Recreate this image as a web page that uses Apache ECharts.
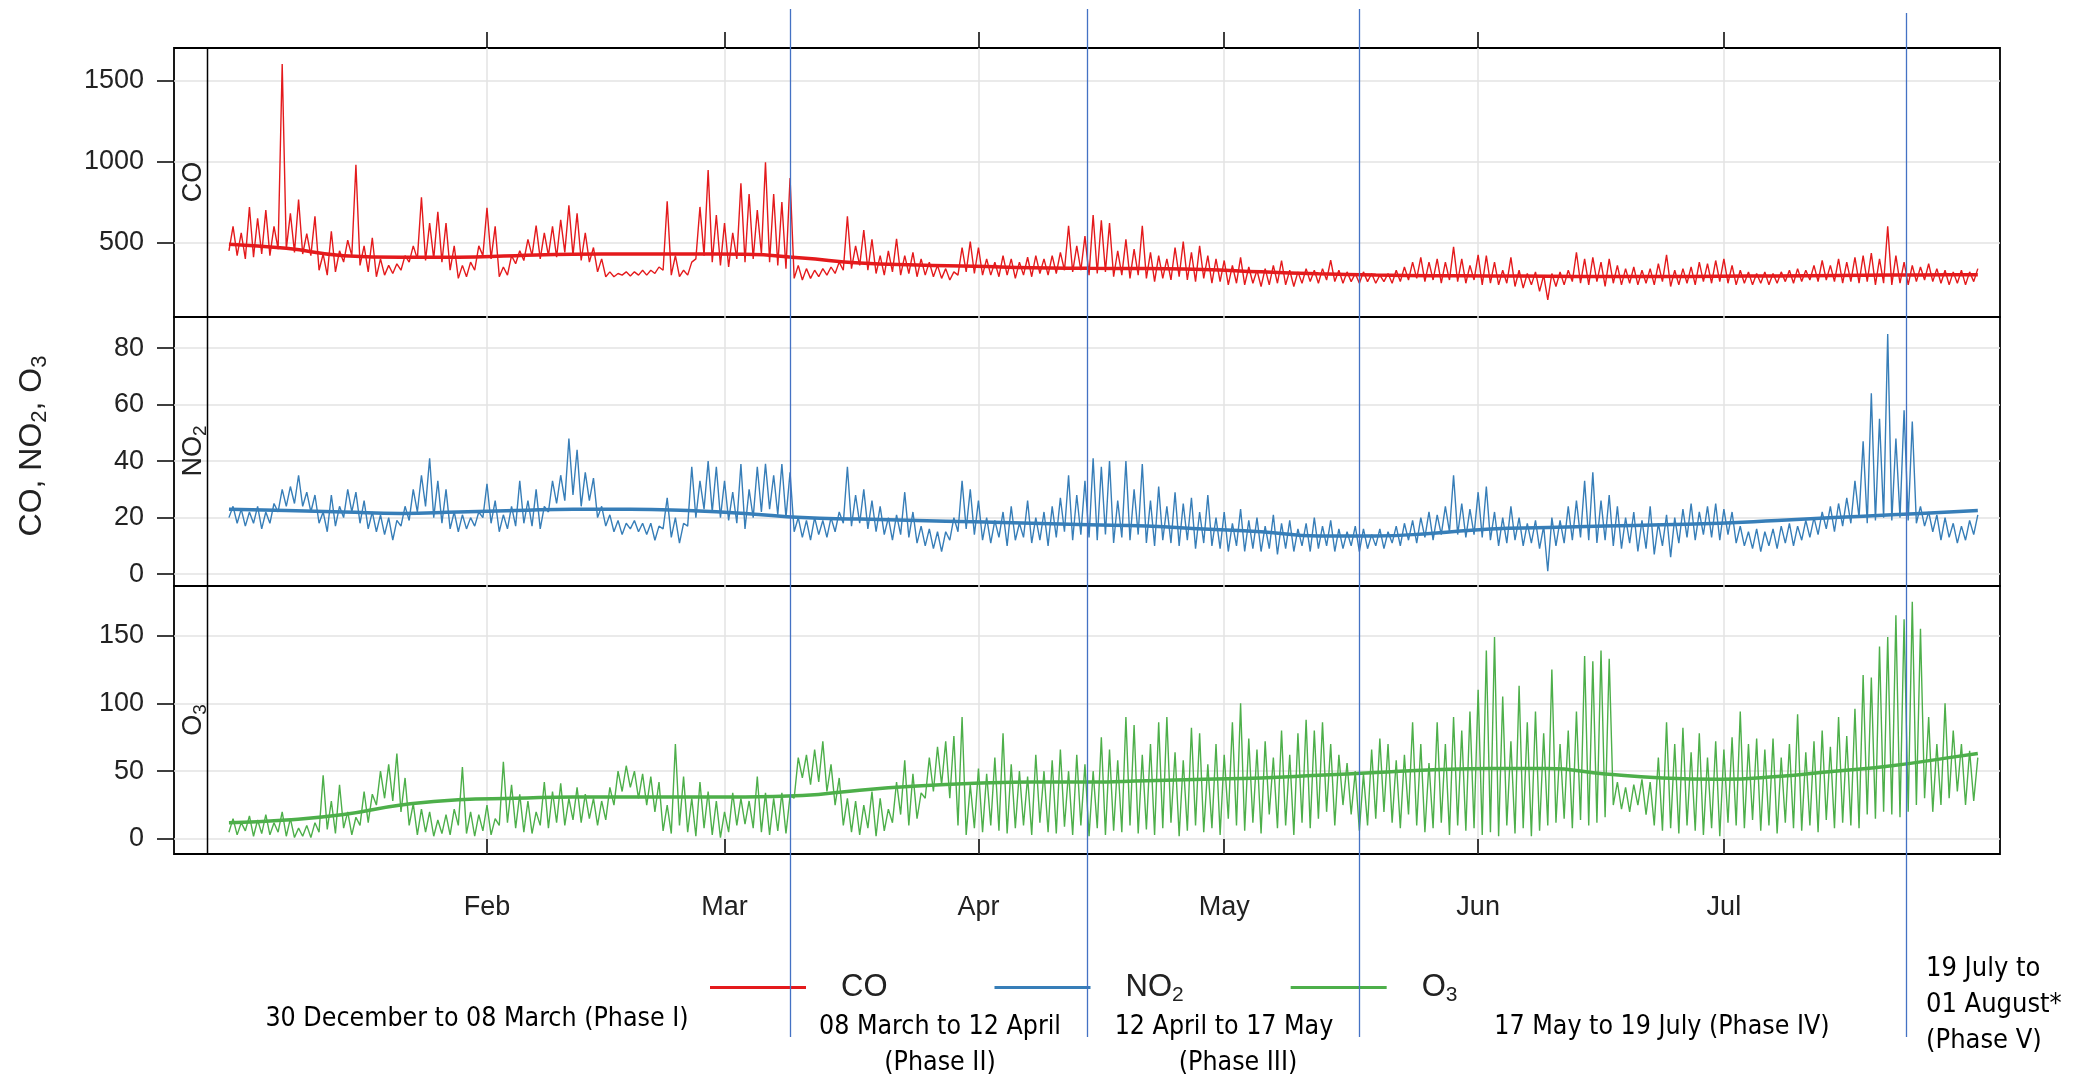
<!DOCTYPE html>
<html>
<head>
<meta charset="utf-8" />
<title>CO, NO2, O3</title>
<script src="https://cdn.jsdelivr.net/npm/echarts@6/dist/echarts.min.js"></script>
</head>
<body style="margin:0;background:#fff">
<div id="main" style="width:2080px;height:1074px"></div>
<script>
// first reading 31 Dec 2019 12:00, then one value every 12 h (low / high of each day)
var startTime = Date.UTC(2019, 11, 31, 12);
var stepMs = 12 * 3600 * 1000;

// CO, one row per week
var co = [
  450,600, 420,560, 400,720, 410,650, 430,700, 420,600, 460,1600,
  460,680, 440,766, 430,555, 420,662, 330,430, 300,570, 320,450,
  380,515, 420,980, 360,480, 320,530, 290,400, 300,360, 310,370,
  330,420, 380,480, 400,780, 390,620, 400,690, 380,620, 330,480,
  280,360, 290,380, 330,480, 420,715, 400,600, 290,350, 300,420,
  370,450, 390,520, 420,605, 400,560, 420,600, 410,640, 440,730,
  420,680, 390,560, 380,470, 320,400, 290,320, 290,310, 300,320,
  295,320, 300,330, 300,330, 310,350, 330,755, 300,420, 290,330,
  300,380, 400,720, 420,947, 380,670, 360,620, 350,560, 400,865,
  380,800, 400,700, 430,995, 380,800, 360,750, 340,898, 280,360,
  270,340, 280,330, 290,340, 300,350, 310,380, 330,663, 340,480,
  360,578, 330,520, 310,420, 300,450, 320,523, 300,420, 310,440,
  290,400, 300,380, 290,360, 280,340, 270,320, 300,470, 320,506,
  310,470, 300,400, 300,380, 290,420, 300,400, 280,380, 300,410,
  290,420, 310,400, 300,420, 310,440, 330,604, 320,480, 330,540,
  300,670, 310,637, 320,620, 290,450, 300,520, 280,460, 300,604,
  280,440, 260,420, 280,400, 270,470, 290,506, 270,440, 260,480,
  280,420, 250,400, 260,390, 240,360, 250,409, 240,350, 250,330,
  230,340, 240,360, 250,390, 240,330, 230,320, 250,340, 260,330,
  250,340, 270,392, 260,330, 250,320, 260,310, 250,320, 260,310,
  250,300, 260,310, 250,330, 260,350, 270,380, 280,409, 260,380,
  270,400, 250,380, 270,474, 260,400, 250,360, 270,425, 240,420,
  250,380, 240,330, 250,409, 230,330, 220,310, 240,320, 200,300,
  148,310, 230,320, 240,330, 260,441, 250,400, 240,410, 260,380,
  230,400, 250,360, 240,340, 250,350, 240,330, 250,340, 240,370,
  260,425, 230,330, 240,340, 250,350, 240,380, 260,370, 250,390,
  260,400, 250,360, 240,330, 250,320, 240,310, 250,320, 240,310,
  250,320, 260,330, 250,340, 260,330, 270,360, 260,390, 270,360,
  260,400, 250,380, 260,410, 250,420, 260,435, 240,400, 250,600,
  240,420, 250,380, 240,360, 260,350, 270,370, 260,340, 250,330,
  240,320, 250,330, 240,320, 260,340
];

var no2 = [
  20,24, 18,23, 17,22, 18,24, 16,22, 18,25, 22,30,
  24,31, 25,35, 24,29, 22,28, 18,22, 15,28, 17,24,
  20,30, 22,29, 18,26, 16,22, 15,21, 14,20, 12,19,
  17,24, 19,30, 22,35, 24,41, 20,33, 18,30, 16,22,
  15,21, 16,20, 17,22, 20,32, 18,26, 15,21, 16,24,
  17,33, 18,26, 17,30, 16,24, 22,33, 25,35, 26,48,
  28,44, 24,36, 26,34, 20,24, 17,21, 15,19, 14,18,
  16,19, 15,18, 14,18, 12,17, 16,27, 13,20, 11,18,
  17,38, 20,33, 23,40, 22,38, 20,33, 19,29, 18,39,
  16,30, 20,38, 22,39, 23,35, 21,39, 20,36, 15,20,
  13,19, 12,20, 14,19, 13,20, 15,22, 18,38, 17,28,
  18,30, 16,26, 15,24, 14,20, 12,21, 14,29, 13,22,
  11,17, 10,16, 9,15, 8,15, 12,20, 15,33, 16,30,
  14,26, 12,20, 11,19, 13,22, 10,24, 12,18, 13,26,
  11,20, 12,22, 10,24, 13,27, 15,35, 12,28, 14,33,
  13,41, 12,38, 14,40, 11,26, 13,40, 12,30, 14,39,
  11,26, 10,31, 12,24, 11,29, 10,25, 12,27, 9,22,
  11,28, 10,20, 9,22, 8,18, 10,23, 8,19, 9,20,
  8,17, 9,21, 7,18, 9,19, 8,16, 10,18, 8,20,
  9,17, 10,19, 8,16, 9,15, 10,17, 8,16, 9,14,
  10,16, 9,15, 11,17, 10,18, 12,19, 11,20, 13,22,
  12,21, 14,24, 15,35, 14,25, 13,23, 14,29, 13,31,
  12,22, 10,20, 11,24, 12,20, 10,18, 11,19, 9,17,
  1,20, 10,19, 11,24, 12,26, 13,33, 12,36, 11,26,
  12,28, 10,24, 9,20, 11,22, 8,19, 9,24, 7,18,
  10,21, 6,20, 11,23, 13,25, 12,22, 14,24, 13,25,
  12,23, 14,22, 11,17, 10,15, 9,16, 8,15, 10,16,
  9,17, 11,18, 10,17, 12,19, 13,20, 14,22, 16,24,
  15,25, 17,27, 18,33, 20,47, 18,64, 19,55, 20,85,
  19,48, 20,58, 19,54, 18,24, 17,22, 15,21, 12,20,
  13,18, 11,17, 12,19, 14,21
];

var o3 = [
  5,15, 3,12, 6,17, 2,14, 4,18, 3,12, 5,20,
  2,15, 1,8, 2,10, 1,12, 5,47, 7,28, 4,40,
  8,20, 3,16, 10,35, 12,33, 25,50, 30,55, 28,63,
  20,45, 10,26, 3,22, 5,20, 2,14, 4,18, 3,22,
  10,53, 4,20, 2,18, 6,25, 3,15, 10,57, 12,40,
  8,33, 5,28, 4,20, 10,42, 8,35, 12,41, 10,30,
  14,38, 12,33, 15,30, 10,28, 14,38, 25,50, 35,54,
  38,50, 30,48, 25,46, 20,42, 6,25, 4,70, 10,46,
  5,30, 2,42, 8,35, 3,28, 1,20, 5,34, 10,30,
  11,28, 8,46, 5,34, 3,30, 6,34, 4,32, 30,60,
  45,62, 40,66, 42,72, 35,55, 25,45, 10,30, 5,28,
  3,25, 8,35, 2,30, 6,22, 12,42, 18,58, 10,48,
  15,34, 30,60, 35,68, 40,72, 30,76, 10,90, 3,40,
  8,52, 5,48, 10,60, 6,78, 4,55, 8,50, 10,46,
  3,62, 12,50, 5,58, 4,66, 9,50, 3,62, 10,55,
  2,50, 8,75, 3,66, 6,58, 5,90, 10,84, 4,62,
  7,70, 3,86, 8,90, 12,64, 2,58, 6,82, 10,78,
  5,55, 8,70, 3,62, 15,86, 10,100, 6,74, 12,66,
  4,72, 18,60, 8,80, 10,62, 3,78, 12,88, 8,80,
  15,86, 20,70, 10,62, 25,56, 18,50, 6,48, 10,66,
  15,74, 20,70, 12,58, 8,62, 18,86, 10,70, 5,56,
  8,86, 12,70, 3,90, 10,80, 6,94, 8,110, 3,139,
  5,149, 2,105, 10,72, 4,113, 8,86, 2,94, 6,78,
  10,125, 12,70, 15,80, 8,94, 14,135, 10,131, 12,139,
  16,133, 25,42, 22,38, 20,40, 25,44, 18,42, 10,60,
  6,86, 8,70, 4,82, 10,64, 6,78, 3,60, 8,72,
  2,66, 12,75, 10,94, 8,70, 14,74, 6,66, 10,74,
  4,60, 12,70, 8,92, 6,64, 10,72, 5,80, 14,68,
  8,90, 12,76, 10,96, 8,121, 18,119, 15,142, 20,149,
  18,165, 16,162, 20,175, 25,155, 30,90, 20,70, 25,100,
  30,80, 35,70, 25,65, 28,60
];

// smooth trend, one value per week, the last one at the end of the record
var coTrend = [490,465,420,410,410,420,428,430,430,428,405,375,362,355,345,342,
  340,335,320,308,300,296,295,293,292,292,293,295,298,300,302,303];
var no2Trend = [23,22.5,22,21.5,22,22.5,23,23,22.5,21.5,20,19.5,19,18.5,18,17.5,
  17,16,15,13.5,13.5,14.5,16,16.5,17,17.5,18,19,20,21,22,22.5];
var o3Trend = [12,14,18,25,29,30,31,31,31,31,32,36,39,41,42,42,
  43,44,45,47,49,51,52,52,48,45,44,46,50,54,60,63];

var monthTicks = [Date.UTC(2020,1,1), Date.UTC(2020,2,1), Date.UTC(2020,3,1),
  Date.UTC(2020,4,1), Date.UTC(2020,5,1), Date.UTC(2020,6,1)];
var monthLabels = ['Feb', 'Mar', 'Apr', 'May', 'Jun', 'Jul'];

var phaseDates = [Date.UTC(2020,2,9,0), Date.UTC(2020,3,14,6), Date.UTC(2020,4,17,12), Date.UTC(2020,6,23,6)];

var xMin = Date.UTC(2019, 11, 24, 19);
var xMax = Date.UTC(2020, 7, 3, 17);

var FONT = 'Liberation Sans, Arial, sans-serif';
var NOTE_FONT = 'Liberation Sans Narrow, DejaVu Sans Condensed, Arial Narrow, sans-serif';
var GRID_LINE = { color: '#e3e3e3', width: 1.5 };

function toSeries(values) {
  return values.map(function (v, i) { return [startTime + i * stepMs, v]; });
}
function toTrend(values) {
  var end = startTime + (co.length - 1) * stepMs;
  return values.map(function (v, i) {
    return [i === values.length - 1 ? end : startTime + i * 7 * 24 * 3600 * 1000, v];
  });
}

var chart = echarts.init(document.getElementById('main'));

var grids = [
  { left: 174, right: 80, top: 48, height: 269 },
  { left: 174, right: 80, top: 317, height: 269 },
  { left: 174, right: 80, top: 586, height: 268 }
].map(function (g) {
  g.show = true; g.borderColor = '#000'; g.borderWidth = 1.8;
  g.backgroundColor = 'transparent'; g.outerBoundsMode = 'none';
  return g;
});

// x is kept as a value axis of timestamps so the month ticks can be placed exactly
function xAxisFor(idx, pos, ticks, labels) {
  return {
    type: 'value', gridIndex: idx, position: pos, min: xMin, max: xMax,
    axisLine: { show: false },
    axisTick: { show: ticks, length: 16, customValues: monthTicks, lineStyle: { color: '#000', width: 1.5 } },
    axisLabel: {
      show: labels, customValues: monthTicks, margin: 40, fontSize: 27, color: '#222', fontFamily: FONT,
      formatter: function (v) { return monthLabels[monthTicks.indexOf(v)] || ''; }
    },
    splitLine: { show: true, lineStyle: GRID_LINE }
  };
}
function yAxisFor(idx, min, max, ticks) {
  return {
    type: 'value', gridIndex: idx, min: min, max: max,
    axisLine: { show: false },
    axisTick: { show: true, length: 17, customValues: ticks, lineStyle: { color: '#000', width: 1.5 } },
    axisLabel: { customValues: ticks, margin: 30, fontSize: 27, color: '#222', fontFamily: FONT,
      formatter: function (v) { return String(v); } },
    splitLine: { show: true, lineStyle: GRID_LINE }
  };
}

function lineSeries(name, idx, data, color) {
  return {
    name: name, type: 'line', xAxisIndex: idx, yAxisIndex: idx, data: toSeries(data),
    symbol: 'none', lineStyle: { color: color, width: 1.4 }, itemStyle: { color: color }, z: 2
  };
}
function trendSeries(name, idx, data, color) {
  return {
    name: name, type: 'line', xAxisIndex: idx, yAxisIndex: idx, data: toTrend(data),
    symbol: 'none', smooth: true, lineStyle: { color: color, width: 3.5 }, z: 3
  };
}

var rich = {
  n: { fontSize: 31, color: '#222', fontFamily: FONT },
  s: { fontSize: 21, color: '#222', fontFamily: FONT, padding: [16, 0, 0, 0] },
  gap: { width: 30 }
};

chart.setOption({
  animation: false,
  backgroundColor: '#fff',
  grid: grids,
  xAxis: [xAxisFor(0, 'top', true, false), xAxisFor(1, 'bottom', false, false), xAxisFor(2, 'bottom', true, true)],
  yAxis: [yAxisFor(0, 42, 1699, [500, 1000, 1500]), yAxisFor(1, -4.2, 91, [0, 20, 40, 60, 80]), yAxisFor(2, -11.1, 186.6, [0, 50, 100, 150])],
  legend: {
    data: ['CO', 'NO2', 'O3'], left: 705, top: 967, icon: 'rect', itemWidth: 96, itemHeight: 3, itemGap: 107,
    formatter: function (name) {
      if (name === 'NO2') return '{gap|}{n|NO}{s|2}';
      if (name === 'O3') return '{gap|}{n|O}{s|3}';
      return '{gap|}{n|' + name + '}';
    },
    textStyle: { rich: rich }
  },
  series: [
    lineSeries('CO', 0, co, '#E41A1C'),
    lineSeries('NO2', 1, no2, '#377EB8'),
    lineSeries('O3', 2, o3, '#4DAF4A'),
    trendSeries('CO trend', 0, coTrend, '#E41A1C'),
    trendSeries('NO2 trend', 1, no2Trend, '#377EB8'),
    trendSeries('O3 trend', 2, o3Trend, '#4DAF4A')
  ]
});

// strip, titles, phase lines and notes
var g = [];
g.push({ type: 'line', shape: { x1: 207.5, y1: 48, x2: 207.5, y2: 854 }, style: { stroke: '#000', lineWidth: 1.5 }, z: 10 });

var stripRich = {
  n: { fontSize: 27, fontFamily: FONT, fill: '#222' },
  s: { fontSize: 19, fontFamily: FONT, fill: '#222', padding: [14, 0, 0, 0] }
};
[['{n|CO}', 182], ['{n|NO}{s|2}', 451], ['{n|O}{s|3}', 720]].forEach(function (t) {
  g.push({ type: 'text', x: 194, y: t[1], rotation: Math.PI / 2, z: 10,
    style: { text: t[0], rich: stripRich, align: 'center', verticalAlign: 'middle' } });
});

g.push({ type: 'text', x: 32, y: 446, rotation: Math.PI / 2, z: 10,
  style: {
    text: '{n|CO, NO}{s|2}{n|, O}{s|3}', align: 'center', verticalAlign: 'middle',
    rich: {
      n: { fontSize: 32, fontFamily: FONT, fill: '#222' },
      s: { fontSize: 22, fontFamily: FONT, fill: '#222', padding: [16, 0, 0, 0] }
    }
  } });

phaseDates.forEach(function (d, i) {
  var px = Math.round(chart.convertToPixel({ xAxisIndex: 2 }, d)) + 0.5;
  g.push({ type: 'line', shape: { x1: px, y1: i === 3 ? 13 : 9, x2: px, y2: 1037 },
    style: { stroke: '#4472C4', lineWidth: 1.3 }, z: 20 });
});

var notes = [
  ['30 December to 08 March (Phase I)', 477, 1019, 'center'],
  ['08 March to 12 April', 940, 1027, 'center'],
  ['(Phase II)', 940, 1063, 'center'],
  ['12 April to 17 May', 1224, 1027, 'center'],
  ['(Phase III)', 1238, 1063, 'center'],
  ['17 May to 19 July (Phase IV)', 1662, 1027, 'center'],
  ['19 July to', 1926, 969, 'left'],
  ['01 August*', 1926, 1005, 'left'],
  ['(Phase V)', 1926, 1041, 'left']
];
notes.forEach(function (n, i) {
  g.push({ type: 'text', x: n[1], y: n[2], z: 10,
    style: { text: n[0], fontSize: i >= 6 ? 27 : 26.5, fontFamily: NOTE_FONT, fill: '#000', align: n[3], verticalAlign: 'middle' } });
});

chart.setOption({ graphic: g });
</script>
</body>
</html>
